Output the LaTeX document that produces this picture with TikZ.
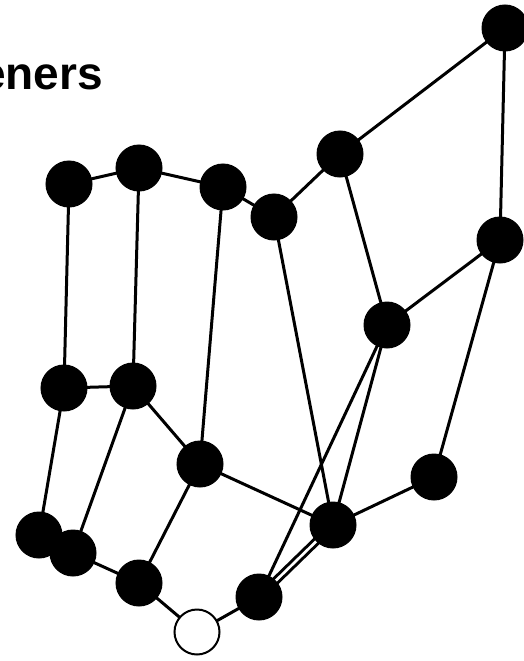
\documentclass[tikz,border=0pt]{standalone}
\usepackage{fontspec}
\setmainfont{Liberation Sans}
\begin{document}
\begin{tikzpicture}[x=1pt,y=-1pt,
  vtx/.style={circle,fill=black,draw=black,line width=1pt,minimum size=46pt,inner sep=0pt},
  wvtx/.style={circle,fill=white,draw=black,line width=2pt,minimum size=45pt,inner sep=0pt},
  edge/.style={line width=3pt,black}]
\useasboundingbox (0,0) rectangle (524,661);
\node[anchor=base east,font=\bfseries\fontsize{46}{48}\selectfont,inner sep=0pt] (title) at (103,89) {eners};
\coordinate (A) at (505,28);
\coordinate (B) at (340,154);
\coordinate (C) at (274,217);
\coordinate (D) at (223,187);
\coordinate (E) at (139,168);
\coordinate (F) at (69,184);
\coordinate (G) at (500,240);
\coordinate (H) at (387,325);
\coordinate (I) at (64,388);
\coordinate (J) at (133,386);
\coordinate (K) at (200,464);
\coordinate (L) at (434,477);
\coordinate (M) at (333,525);
\coordinate (N) at (39,535);
\coordinate (O) at (73,553);
\coordinate (P) at (139,583);
\coordinate (Q) at (259,597);
\coordinate (R) at (197,632);
\draw[edge] (A) -- (B);
\draw[edge] (A) -- (G);
\draw[edge] (B) -- (C);
\draw[edge] (B) -- (H);
\draw[edge] (C) -- (D);
\draw[edge] (C) -- (M);
\draw[edge] (D) -- (E);
\draw[edge] (D) -- (K);
\draw[edge] (E) -- (F);
\draw[edge] (E) -- (J);
\draw[edge] (F) -- (I);
\draw[edge] (I) -- (J);
\draw[edge] (I) -- (N);
\draw[edge] (J) -- (O);
\draw[edge] (J) -- (K);
\draw[edge] (K) -- (P);
\draw[edge] (K) -- (M);
\draw[edge] (G) -- (H);
\draw[edge] (G) -- (L);
\draw[edge] (H) -- (Q);
\draw[edge] (H) -- (M);
\draw[edge] (L) -- (M);
\draw[edge,double=white,double distance=2.6pt] (M) -- (Q);
\draw[edge] (N) -- (O);
\draw[edge] (O) -- (P);
\draw[edge] (P) -- (R);
\draw[edge] (R) -- (Q);
\foreach \v in {A,B,C,D,E,F,G,H,I,J,K,L,M,N,O,P,Q}
  \node[vtx] (n\v) at (\v) {};
\node[wvtx] (nR) at (R) {};
\end{tikzpicture}
\end{document}
